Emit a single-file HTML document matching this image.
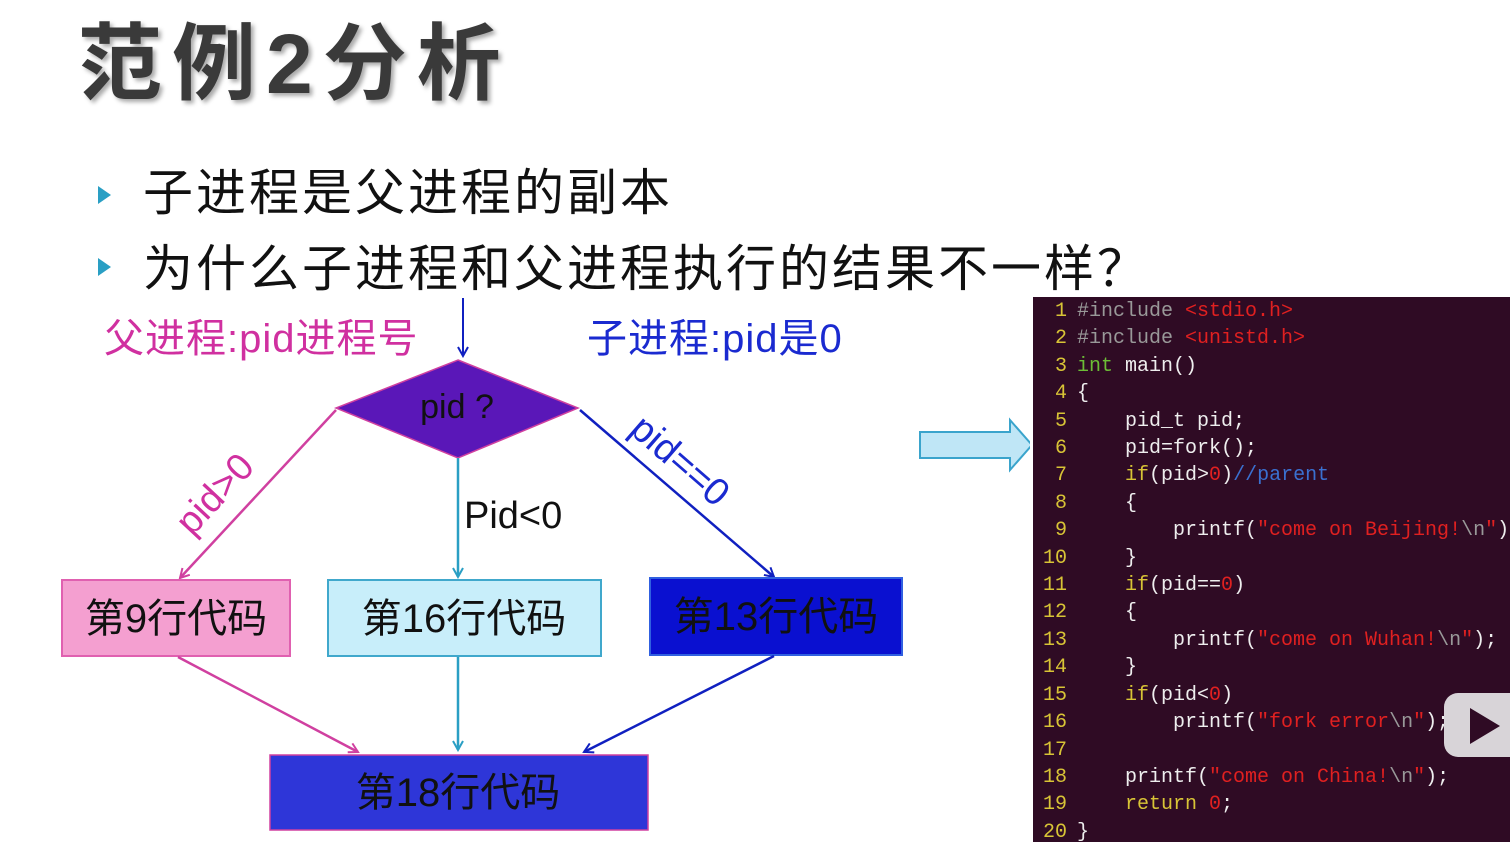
<!DOCTYPE html>
<html><head><meta charset="utf-8"><style>
body{margin:0;width:1510px;height:842px;overflow:hidden;background:#fff;position:relative;font-family:"Liberation Sans","Noto Sans CJK SC",sans-serif}
.t{position:absolute;left:78px;top:18px;font-size:84px;font-weight:bold;color:#3a3a3a;text-shadow:3px 3px 4px #aaa;letter-spacing:10px;line-height:1.1}
.b{position:absolute;left:143px;font-size:50px;color:#111;line-height:1;letter-spacing:3px}
.tri{position:absolute;left:98px;width:0;height:0;border-left:13px solid #2a9fc4;border-top:9px solid transparent;border-bottom:9px solid transparent}
.code{position:absolute;left:1033px;top:297px;width:477px;height:545px;background:#2f0b24;font-family:"Liberation Mono",monospace;font-size:20px;line-height:27.4px;color:#eee;white-space:pre;padding-top:1px;box-sizing:border-box}
.ln{color:#d8c436;display:inline-block;width:34px;text-align:right;margin-right:10px}
.g{color:#999}.r{color:#e02020}.gr{color:#6cbd36}.y{color:#d8c436}.bl{color:#3a70d0}
</style></head><body>
<div class="t">范例2分析</div>
<div class="tri" style="top:186px"></div><div class="b" style="top:168px">子进程是父进程的副本</div>
<div class="tri" style="top:258px"></div><div class="b" style="top:240px">为什么子进程和父进程执行的结果不一样<span style="font-family:'Noto Sans CJK SC',sans-serif">？</span></div>
<svg style="position:absolute;left:0;top:0" width="1030" height="842">
<defs>
<marker id="m1" markerWidth="12" markerHeight="12" refX="10" refY="6" orient="auto" markerUnits="userSpaceOnUse"><path d="M1,1 L10,6 L1,11" fill="none" stroke="#d040a0" stroke-width="2"/></marker>
<marker id="m2" markerWidth="12" markerHeight="12" refX="10" refY="6" orient="auto" markerUnits="userSpaceOnUse"><path d="M1,1 L10,6 L1,11" fill="none" stroke="#2a9fc4" stroke-width="2"/></marker>
<marker id="m3" markerWidth="12" markerHeight="12" refX="10" refY="6" orient="auto" markerUnits="userSpaceOnUse"><path d="M1,1 L10,6 L1,11" fill="none" stroke="#1020c0" stroke-width="2"/></marker>
</defs>
<text x="104" y="352" font-size="40" letter-spacing="1" fill="#d030a0" font-family="Liberation Sans,Noto Sans CJK SC,sans-serif">父进程:pid进程号</text>
<text x="587" y="352" font-size="40" letter-spacing="1" fill="#1a2ad0" font-family="Liberation Sans,Noto Sans CJK SC,sans-serif">子进程:pid是0</text>
<line x1="463" y1="298" x2="463" y2="356" stroke="#1020c0" stroke-width="2" marker-end="url(#m3)"/>
<polygon points="458,360 578,408 458,458 336,408" fill="#5a17b8" stroke="#d040a0" stroke-width="1.5"/>
<text x="457" y="418" font-size="34" text-anchor="middle" fill="#111">pid ?</text>
<line x1="336" y1="410" x2="180" y2="578" stroke="#d040a0" stroke-width="2.5" marker-end="url(#m1)"/>
<line x1="458" y1="458" x2="458" y2="577" stroke="#2a9fc4" stroke-width="2.5" marker-end="url(#m2)"/>
<line x1="580" y1="410" x2="774" y2="577" stroke="#1020c0" stroke-width="2.5" marker-end="url(#m3)"/>
<text transform="translate(192,537) rotate(-47)" font-size="38" fill="#d030a0">pid&gt;0</text>
<text x="464" y="528" font-size="38" fill="#111">Pid&lt;0</text>
<text transform="translate(628,432) rotate(41)" font-size="38" fill="#1a2ad0">pid==0</text>
<rect x="62" y="580" width="228" height="76" fill="#f49fd0" stroke="#e060b0" stroke-width="2"/>
<text x="176" y="632" font-size="40" text-anchor="middle" fill="#111">第9行代码</text>
<rect x="328" y="580" width="273" height="76" fill="#c8eefa" stroke="#40a8cc" stroke-width="2"/>
<text x="464" y="632" font-size="40" text-anchor="middle" fill="#111">第16行代码</text>
<rect x="650" y="578" width="252" height="77" fill="#0a10d0" stroke="#3060e0" stroke-width="2"/>
<text x="776" y="630" font-size="40" text-anchor="middle" fill="#111">第13行代码</text>
<line x1="178" y1="657" x2="358" y2="752" stroke="#d040a0" stroke-width="2.5" marker-end="url(#m1)"/>
<line x1="458" y1="657" x2="458" y2="750" stroke="#2a9fc4" stroke-width="2.5" marker-end="url(#m2)"/>
<line x1="774" y1="656" x2="584" y2="752" stroke="#1020c0" stroke-width="2.5" marker-end="url(#m3)"/>
<rect x="270" y="755" width="378" height="75" fill="#2e36d8" stroke="#d040a0" stroke-width="1.5"/>
<text x="458" y="806" font-size="40" text-anchor="middle" fill="#111">第18行代码</text>
<polygon points="920,432 1010,432 1010,420 1032,445 1010,470 1010,458 920,458" fill="#bfe6f6" stroke="#3aa4cc" stroke-width="2"/>
</svg>
<div class="code"><span class="ln">1</span><span class="g">#include</span> <span class="r">&lt;stdio.h&gt;</span>
<span class="ln">2</span><span class="g">#include</span> <span class="r">&lt;unistd.h&gt;</span>
<span class="ln">3</span><span class="gr">int</span> main()
<span class="ln">4</span>{
<span class="ln">5</span>    pid_t pid;
<span class="ln">6</span>    pid=fork();
<span class="ln">7</span>    <span class="y">if</span>(pid&gt;<span class="r">0</span>)<span class="bl">//parent</span>
<span class="ln">8</span>    {
<span class="ln">9</span>        printf(<span class="r">"come on Beijing!</span><span class="g">\n</span><span class="r">"</span>)
<span class="ln">10</span>    }
<span class="ln">11</span>    <span class="y">if</span>(pid==<span class="r">0</span>)
<span class="ln">12</span>    {
<span class="ln">13</span>        printf(<span class="r">"come on Wuhan!</span><span class="g">\n</span><span class="r">"</span>);
<span class="ln">14</span>    }
<span class="ln">15</span>    <span class="y">if</span>(pid&lt;<span class="r">0</span>)
<span class="ln">16</span>        printf(<span class="r">"fork error</span><span class="g">\n</span><span class="r">"</span>);
<span class="ln">17</span>
<span class="ln">18</span>    printf(<span class="r">"come on China!</span><span class="g">\n</span><span class="r">"</span>);
<span class="ln">19</span>    <span class="y">return</span> <span class="r">0</span>;
<span class="ln">20</span>}</div>
<div style="position:absolute;left:1444px;top:693px;width:80px;height:64px;background:#d8d4d8;border-radius:14px"></div>
<div style="position:absolute;left:1470px;top:708px;width:0;height:0;border-left:30px solid #2f0b24;border-top:18px solid transparent;border-bottom:18px solid transparent"></div>
</body></html>
